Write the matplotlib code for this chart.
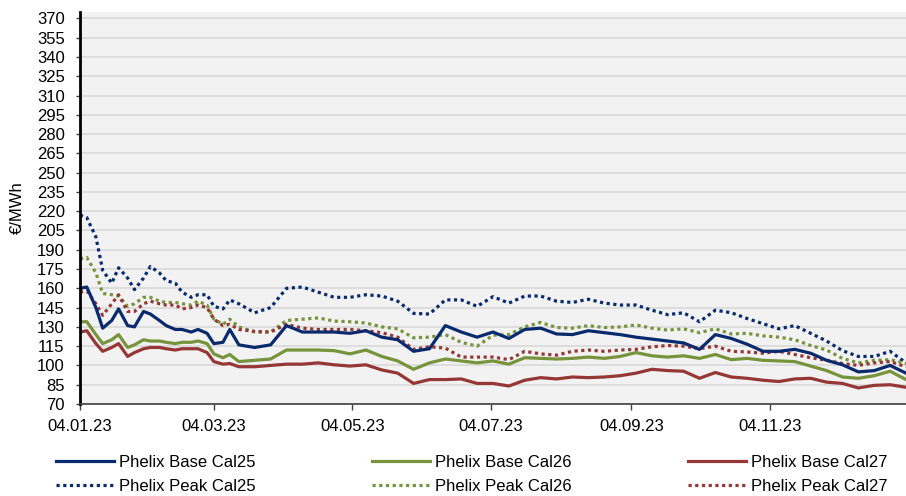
import matplotlib
matplotlib.use("Agg")
import matplotlib.pyplot as plt
import matplotlib.dates as mdates
import pandas as pd

plt.rcParams['font.family'] = ['Liberation Sans', 'DejaVu Sans']
plt.rcParams['font.size'] = 12

dates = ['2023-01-04', '2023-01-07', '2023-01-11', '2023-01-14', '2023-01-18', '2023-01-21',
         '2023-01-25', '2023-01-28', '2023-02-01', '2023-02-04', '2023-02-08', '2023-02-11',
         '2023-02-15', '2023-02-18', '2023-02-22', '2023-02-25', '2023-03-01', '2023-03-04',
         '2023-03-08', '2023-03-11', '2023-03-15', '2023-03-22', '2023-03-29', '2023-04-05',
         '2023-04-12', '2023-04-19', '2023-04-26', '2023-05-03', '2023-05-10', '2023-05-17',
         '2023-05-24', '2023-05-31', '2023-06-07', '2023-06-14', '2023-06-21', '2023-06-28',
         '2023-07-05', '2023-07-12', '2023-07-19', '2023-07-26', '2023-08-02', '2023-08-09',
         '2023-08-16', '2023-08-23', '2023-08-30', '2023-09-06', '2023-09-13', '2023-09-20',
         '2023-09-27', '2023-10-04', '2023-10-11', '2023-10-18', '2023-10-25', '2023-11-01',
         '2023-11-08', '2023-11-15', '2023-11-22', '2023-11-29', '2023-12-06', '2023-12-13',
         '2023-12-20', '2023-12-27', '2024-01-03']

base25 = [160, 161, 145, 129, 135, 144, 131, 130, 142, 140, 135, 131, 128, 128, 126, 128, 125, 117, 118, 128, 116,
          114, 116, 131, 126, 126, 126, 125, 127,
          122, 120, 111, 113, 131, 126, 122, 126, 121,
          128, 129, 124.5, 124, 127, 125.5, 124, 122, 120.5,
          119, 117.5, 112.5, 124, 121, 116.5, 111, 111,
          112.5, 109.5, 104, 100.5, 95, 96, 100, 94]

base26 = [134, 134, 124, 117, 120, 124, 114, 116, 120, 119, 119, 118, 117, 118, 118, 119, 117, 109, 106, 108.5, 103,
          104, 105, 112, 112, 112, 111.5, 109, 112,
          107, 103.5, 97, 102, 105, 103.5, 102, 103.5, 101,
          106, 105.5, 105, 105.5, 106.5, 105.5, 107, 110, 107.5,
          106.5, 107.5, 105.5, 108.5, 104.5, 105.5, 104, 103.5,
          103, 99.5, 96, 91, 90, 92, 95.5, 89]

base27 = [126, 127, 117, 111, 114, 117, 107, 110, 113, 114, 114, 113, 112, 113, 113, 113, 110, 103, 101, 101.5, 99,
          99, 100, 101, 101, 102, 100.5, 99.5, 100.5,
          96.5, 94, 86, 89, 89, 89.5, 86, 86, 84,
          88.5, 90.5, 89.5, 91, 90.5, 91, 92, 94, 97,
          96, 95.5, 90, 94.5, 91, 90, 88.5, 87.5,
          89.5, 90, 87, 86, 82.5, 84.5, 85, 83]

peak25 = [217, 215, 200, 174, 164, 176, 168, 159, 168, 177, 172, 166, 164, 157, 153, 155, 155, 146, 144, 151, 148,
          141, 145, 160, 161, 157, 153, 153, 155,
          154, 150, 140.5, 140, 151, 151, 146, 153.5, 148.5,
          154, 154, 150, 149, 151.5, 148.5, 147, 147, 143,
          139.5, 141, 134, 143, 141, 136.5, 132.5, 128.5,
          131, 125, 119, 111.5, 107, 107, 111, 102]

peak26 = [183, 184, 172, 156, 155, 154, 146, 148, 153, 153, 150, 149, 149, 148, 147, 150, 147, 136, 132, 136, 130,
          126, 126, 135, 136, 137, 134.5, 134, 133,
          130, 128.5, 121.5, 122, 124, 118, 115, 123.5, 124,
          130, 133.5, 129.5, 129, 131, 129.5, 130, 131.5, 129,
          127.5, 128.5, 125.5, 128.5, 124.5, 125, 123, 122,
          120, 115.5, 112, 105.5, 102, 104, 104.5, 101.5]

peak27 = [157, 158, 148, 139, 148, 155, 142, 142, 148, 150, 148, 147, 147, 144, 145, 147, 145, 136, 131, 132, 128,
          126.5, 126, 132, 129, 128, 128, 128, 127,
          125.5, 122, 112.5, 114.5, 113.5, 106.5, 106.5, 106.5, 104.5,
          111, 109, 108, 111, 112, 111, 112, 112.5, 114.5,
          115.5, 115, 113, 115, 111, 110.5, 109.5, 111,
          108.5, 106, 104, 101.5, 100, 102, 103, 99]

labels = ['Phelix Base Cal25', 'Phelix Base Cal26', 'Phelix Base Cal27',
          'Phelix Peak Cal25', 'Phelix Peak Cal26', 'Phelix Peak Cal27']
tick_dates = ['2023-01-04', '2023-03-04', '2023-05-04', '2023-07-04', '2023-09-04', '2023-11-04']
y_ticks = list(range(70, 371, 15))

c_blue = '#0A2A6E'
c_green = '#77933C'
c_red = '#953735'

W, H = 906, 496
fig = plt.figure(figsize=(W / 100, H / 100), dpi=100)
ax = fig.add_axes([80 / W, 1 - 404 / H, 826 / W, 392 / H])
ax.set_facecolor('#F2F2F2')

x = pd.to_datetime(dates)
dot = (0, (1.0, 1.1))
lw = 2.3
h_p25, = ax.plot(x, peak25, color=c_blue, lw=lw, ls=dot, dash_capstyle='butt')
h_p26, = ax.plot(x, peak26, color=c_green, lw=lw, ls=dot, dash_capstyle='butt')
h_p27, = ax.plot(x, peak27, color=c_red, lw=lw, ls=dot, dash_capstyle='butt')
h_b27, = ax.plot(x, base27, color=c_red, lw=lw)
h_b26, = ax.plot(x, base26, color=c_green, lw=lw)
h_b25, = ax.plot(x, base25, color=c_blue, lw=lw)

ax.set_ylim(70, 375)
ax.set_yticks(y_ticks)
ax.set_xlim(pd.Timestamp('2023-01-04'), pd.Timestamp('2024-01-03'))
ax.set_xticks(pd.to_datetime(tick_dates))
ax.xaxis.set_major_formatter(mdates.DateFormatter('%d.%m.%y'))

ax.grid(axis='y', color='#D9D9D9', lw=1.2)
ax.set_axisbelow(True)
for s in ['top', 'right']:
    ax.spines[s].set_visible(False)
ax.spines['left'].set_color('black')
ax.spines['left'].set_linewidth(2.0)
ax.spines['bottom'].set_color('#404040')
ax.spines['bottom'].set_linewidth(1.2)
ax.tick_params(axis='y', length=3, width=1, color='#404040', pad=8, labelsize=12)
ax.tick_params(axis='x', length=4, width=1, color='#404040', pad=7, labelsize=12)

ax.set_ylabel('€/MWh', fontsize=12)
ax.yaxis.set_label_coords(-0.067, 0.5)

handles = [h_b25, h_p25, h_b26, h_p26, h_b27, h_p27]
leg_labels = [labels[0], labels[3], labels[1], labels[4], labels[2], labels[5]]
fig.legend(handles, leg_labels, ncol=3, loc='upper left',
           bbox_to_anchor=(56 / W, 1 - 455 / H), frameon=False,
           borderpad=0, borderaxespad=0, handlelength=3.5, handletextpad=0.3,
           columnspacing=6.95, labelspacing=0.53, fontsize=12)

fig.savefig('out.png', dpi=100, facecolor='white')
